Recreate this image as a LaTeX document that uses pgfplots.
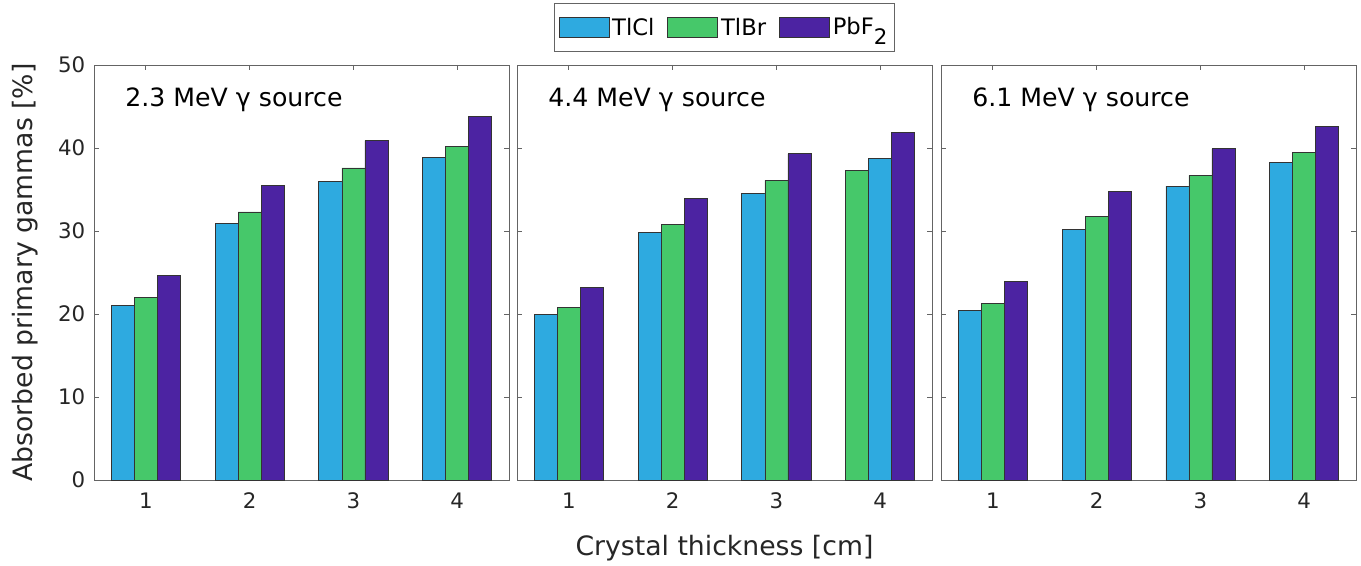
\documentclass[border=0pt]{standalone}
\usepackage{pgfplots}
\pgfplotsset{compat=1.18}
\usepackage{fontspec}
\setmainfont{DejaVu Sans}
\definecolor{cTlCl}{RGB}{46,170,224}
\definecolor{cTlBr}{RGB}{70,200,106}
\definecolor{cPbF}{RGB}{76,35,162}
\definecolor{axc}{RGB}{100,100,100}
\definecolor{txc}{RGB}{38,38,38}
\pgfplotsset{
  panel/.style={
    scale only axis, width=311.25pt, height=311.25pt,
    anchor=south west,
    xmin=0.5, xmax=4.5, ymin=0, ymax=50,
    xtick={1,2,3,4}, ytick={0,10,20,30,40,50},
    tick align=inside,
    axis line style={draw=axc, line width=0.6pt},
    major tick style={draw=axc, line width=0.6pt},
    major tick length=4pt,
    ticklabel style={font=\fontsize{16}{19}\selectfont, text=txc},
    /pgf/number format/assume math mode=true,
    xticklabel style={yshift=-6pt},
    yticklabel style={xshift=-3pt},
    clip=false,
  },
  bars/.style={ybar, bar width=0.222, draw=black!80, line width=0.5pt,
    legend image code/.code={\draw[##1] (0pt,-7.5pt) rectangle (37.5pt,7.5pt);}},
}
\newcommand{\ptext}[1]{\node[anchor=base west, inner sep=0pt, font=\fontsize{18.9}{22}\selectfont, text=black] at (rel axis cs:0.075,0.8995) {#1};}
\begin{document}
\begin{tikzpicture}
\useasboundingbox (0,0) rectangle (1020.75pt,424.5pt);
% Panel 1
\begin{axis}[panel, at={(70.5pt,64.5pt)},
  ylabel={Absorbed primary gammas [\%]},
  ylabel style={at={(axis description cs:-0.147,0.5)}, anchor=base, rotate=0, font=\fontsize{20}{24}\selectfont, text=txc}]
\addplot[bars, bar shift=-0.222, fill=cTlCl] coordinates {(1,21.0) (2,30.9) (3,36.0) (4,38.9)};
\addplot[bars, bar shift=0, fill=cTlBr] coordinates {(1,22.0) (2,32.3) (3,37.6) (4,40.2)};
\addplot[bars, bar shift=0.222, fill=cPbF] coordinates {(1,24.6) (2,35.5) (3,40.9) (4,43.8)};
\ptext{2.3 MeV γ source}
\end{axis}
% Panel 2
\begin{axis}[panel, at={(387.75pt,64.5pt)}, yticklabels={},
  xlabel={Crystal thickness [cm]},
  xlabel style={at={(axis description cs:0.5,-0.1824)}, anchor=base, font=\fontsize{20}{24}\selectfont, text=txc},
  legend columns=3,
  legend style={at={(0.5,1)}, anchor=south, yshift=9.75pt, draw=axc, line width=0.6pt,
    font=\fontsize{17}{20}\selectfont, text=black, inner xsep=3pt, inner ysep=7.5pt,
    nodes={inner sep=2.25pt},
    /tikz/every even column/.append style={column sep=7.5pt}}]
\addplot[bars, bar shift=-0.222, fill=cTlCl] coordinates {(1,19.9) (2,29.8) (3,34.5)};
\addlegendentry{TlCl}
\addplot[bars, bar shift=0, fill=cTlBr] coordinates {(1,20.8) (2,30.8) (3,36.1)};
\addlegendentry{TlBr}
\addplot[bars, bar shift=0.222, fill=cPbF] coordinates {(1,23.2) (2,33.9) (3,39.3) (4,41.9)};
\addlegendentry{\raisebox{0.2ex}{PbF}\raisebox{-0.6ex}{\fontsize{16}{19}\selectfont 2}}
\addplot[bars, bar shift=-0.222, fill=cTlBr, forget plot] coordinates {(4,37.3)};
\addplot[bars, bar shift=0, fill=cTlCl, forget plot] coordinates {(4,38.7)};
\ptext{4.4 MeV γ source}
\end{axis}
% Panel 3
\begin{axis}[panel, at={(705.75pt,64.5pt)}, yticklabels={}]
\addplot[bars, bar shift=-0.222, fill=cTlCl] coordinates {(1,20.4) (2,30.2) (3,35.4) (4,38.3)};
\addplot[bars, bar shift=0, fill=cTlBr] coordinates {(1,21.3) (2,31.8) (3,36.7) (4,39.5)};
\addplot[bars, bar shift=0.222, fill=cPbF] coordinates {(1,23.9) (2,34.8) (3,39.9) (4,42.6)};
\ptext{6.1 MeV γ source}
\end{axis}
\end{tikzpicture}
\end{document}
